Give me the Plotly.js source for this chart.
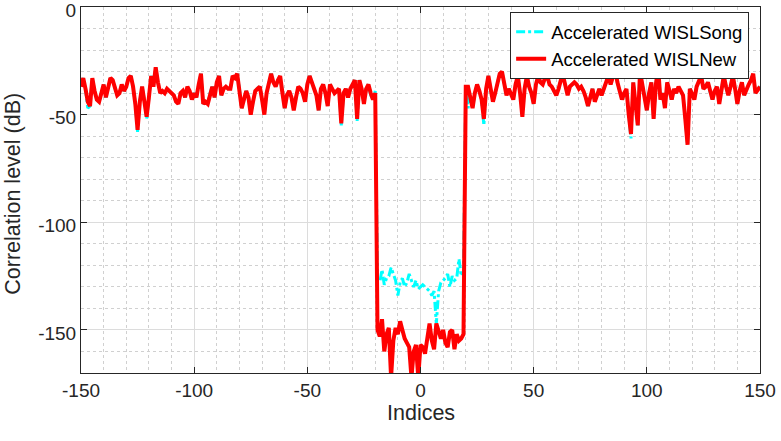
<!DOCTYPE html>
<html>
<head>
<meta charset="utf-8">
<script src="https://cdn.plot.ly/plotly-3.0.1.min.js"></script>
<style>html,body{margin:0;padding:0;background:#fff;}#chart{width:781px;height:441px;}</style>
</head>
<body>
<div id="chart"></div>
<script>
// Lag indices -150 .. 150
const indices = [];
for (let k = -150; k <= 150; k++) indices.push(k);

// Accelerated WISLNew (red), dB, idx -150..150
const wislNew = [
  -37,-33,-38,-44,-46,-33,-39,-43,-44,-40,
  -36,-42,-38,-33,-34,-37,-41,-40,-36,-39,
  -37,-33,-32,-37,-45,-57,-44,-37,-43,-51,
  -42,-32,-37,-28,-35,-40,-39,-40,-38,-39,
  -40,-41,-44,-45,-40,-39,-42,-37,-39,-43,
  -40,-42,-36,-31,-45,-44,-45,-40,-37,-42,
  -35,-32,-41,-38,-37,-38,-38,-32,-33,-31,
  -38,-47,-43,-39,-42,-50,-44,-39,-38,-37,
  -43,-50,-40,-35,-31,-35,-37,-34,-32,-40,
  -47,-41,-39,-42,-48,-42,-37,-38,-40,-44,
  -36,-32,-35,-37,-41,-48,-38,-36,-40,-46,
  -36,-38,-40,-39,-38,-54,-40,-38,-42,-38,
  -36,-34,-52,-34,-38,-45,-38,-36,-40,-43,
  -40,
  -150,-153,-145,-160,-152,-149,-172,-155,-149,-152,
  -146,-150,-154,-156,-158,-172,-160,-157,-172,-157,
  -158,-161,-152,-147,-155,-159,-147,-151,-154,-150,
  -156,-158,-151,-150,-159,-152,-155,-154,-152,
  -37,-37,-42,-47,-40,-36,-39,-43,-52,-38,-32,
  -38,-44,-40,-35,-31,-30,-36,-41,-38,-40,
  -43,-36,-32,-40,-51,-38,-32,-37,-40,-45,
  -36,-32,-35,-36,-33,-32,-36,-37,-39,-41,
  -38,-34,-32,-37,-41,-37,-36,-35,-36,-38,
  -37,-39,-42,-46,-42,-38,-44,-41,-38,-41,
  -38,-35,-32,-36,-33,-29,-35,-39,-43,-40,
  -38,-50,-59,-35,-47,-55,-30,-36,-42,-48,
  -40,-35,-52,-36,-28,-43,-40,-47,-35,-39,
  -43,-38,-40,-37,-39,-41,-52,-64,-38,-40,
  -43,-37,-35,-32,-38,-37,-35,-40,-43,-39,
  -37,-45,-38,-32,-37,-41,-37,-32,-38,-45,
  -39,-35,-41,-38,-36,-34,-31,-40,-38,-37
];

// Accelerated WISLSong (cyan), dB, idx -150..150
const wislSong = [
  -37,-33,-38,-47,-46,-33,-39,-43,-44,-40,
  -36,-42,-38,-33,-34,-37,-41,-40,-36,-39,
  -37,-33,-32,-37,-45,-58,-44,-37,-43,-52,
  -42,-32,-37,-28,-35,-40,-39,-40,-38,-39,
  -40,-41,-44,-45,-40,-39,-42,-37,-39,-43,
  -40,-42,-36,-31,-45,-44,-45,-40,-37,-42,
  -35,-32,-41,-38,-37,-38,-38,-32,-33,-31,
  -38,-47,-43,-39,-42,-50,-44,-39,-38,-37,
  -43,-50,-40,-35,-31,-35,-37,-34,-32,-40,
  -47,-41,-39,-42,-48,-42,-37,-38,-40,-44,
  -36,-32,-35,-37,-41,-48,-38,-36,-40,-46,
  -36,-38,-40,-39,-38,-55,-40,-38,-42,-38,
  -36,-34,-53,-34,-38,-45,-38,-36,-41,-43,
  -39,
  -128,-128,-122,-129,-126,-125,-121,-124,-127,-134,
  -128,-126,-130,-128,-124,-127,-130,-127,-131,-130,
  -129,-130,-131,-132,-134,-132,-147,-132,-128,-127,
  -126,-124,-130,-125,-127,-126,-117,-125,-123,
  -37,-47,-42,-47,-40,-36,-39,-43,-55,-38,-32,
  -38,-44,-40,-35,-31,-30,-36,-41,-38,-40,
  -43,-36,-32,-40,-51,-38,-32,-37,-40,-45,
  -36,-32,-35,-36,-33,-32,-36,-37,-39,-41,
  -38,-34,-32,-37,-41,-37,-36,-35,-36,-38,
  -37,-39,-42,-46,-42,-38,-44,-41,-38,-41,
  -38,-35,-32,-36,-33,-29,-35,-39,-43,-40,
  -38,-50,-61,-35,-47,-55,-30,-36,-42,-48,
  -40,-35,-52,-36,-28,-43,-40,-47,-35,-39,
  -43,-38,-40,-37,-39,-41,-52,-64,-38,-40,
  -43,-37,-35,-32,-38,-37,-35,-40,-43,-39,
  -37,-45,-38,-32,-37,-41,-37,-32,-38,-45,
  -39,-35,-41,-38,-36,-34,-31,-40,-38,-37
];

const seriesNames = ['Accelerated WISLSong', 'Accelerated WISLNew'];
const xTicks = [-150, -100, -50, 0, 50, 100, 150];
const yTicks = [-150, -100, -50, 0];
const xTitle = 'Indices';
const yTitle = 'Correlation level (dB)';

const FONT = 'Liberation Sans, Arial, Helvetica, sans-serif';

const traces = [
  {x: indices, y: wislSong, name: seriesNames[0], type: 'scatter', mode: 'lines',
   line: {color: '#00FFFF', width: 3, dash: 'dashdot'}},
  {x: indices, y: wislNew, name: seriesNames[1], type: 'scatter', mode: 'lines',
   line: {color: '#FF0000', width: 4}}
];

const axisCommon = {
  showline: true, mirror: 'ticks', linecolor: '#262626', linewidth: 1,
  ticks: 'inside', ticklen: 6, tickcolor: '#262626',
  showgrid: true, gridcolor: '#dcdcdc', gridwidth: 1,
  zeroline: false, ticklabeloverflow: 'allow',
  tickfont: {family: FONT, size: 19, color: '#262626'},
  minor: {showgrid: true, gridcolor: '#d0d0d0', griddash: 'dot', gridwidth: 1, ticks: ''}
};

const layout = {
  width: 781, height: 441,
  margin: {l: 81, r: 21, t: 7, b: 68},
  paper_bgcolor: '#ffffff', plot_bgcolor: '#ffffff',
  showlegend: true,
  legend: {x: 0.984, y: 0.986, xanchor: 'right', yanchor: 'top',
    bgcolor: '#ffffff', bordercolor: '#262626', borderwidth: 1,
    font: {family: FONT, size: 18.5, color: '#000'},
    tracegroupgap: 0},
  xaxis: Object.assign({}, axisCommon, {
    range: [-150, 150], tickvals: xTicks, ticktext: xTicks.map(String),
    minor: Object.assign({}, axisCommon.minor, {dtick: 10, tick0: 0})
  }),
  yaxis: Object.assign({}, axisCommon, {
    range: [-170, 0], tickvals: yTicks, ticktext: yTicks.map(String),
    ticklabelshift: 3,
    minor: Object.assign({}, axisCommon.minor, {dtick: 10, tick0: 0})
  }),
  annotations: [
    {text: xTitle, xref: 'paper', yref: 'paper', x: 0.5, y: -0.108,
     xanchor: 'center', yanchor: 'middle', showarrow: false, borderpad: 0,
     font: {family: FONT, size: 21.5, color: '#262626'}},
    {text: yTitle, xref: 'paper', yref: 'paper', x: -0.1, y: 0.49, textangle: -90,
     xanchor: 'center', yanchor: 'middle', showarrow: false,
     font: {family: FONT, size: 21.5, color: '#262626'}}
  ]
};

Plotly.newPlot('chart', traces, layout, {displayModeBar: false, staticPlot: true});
</script>
</body>
</html>
